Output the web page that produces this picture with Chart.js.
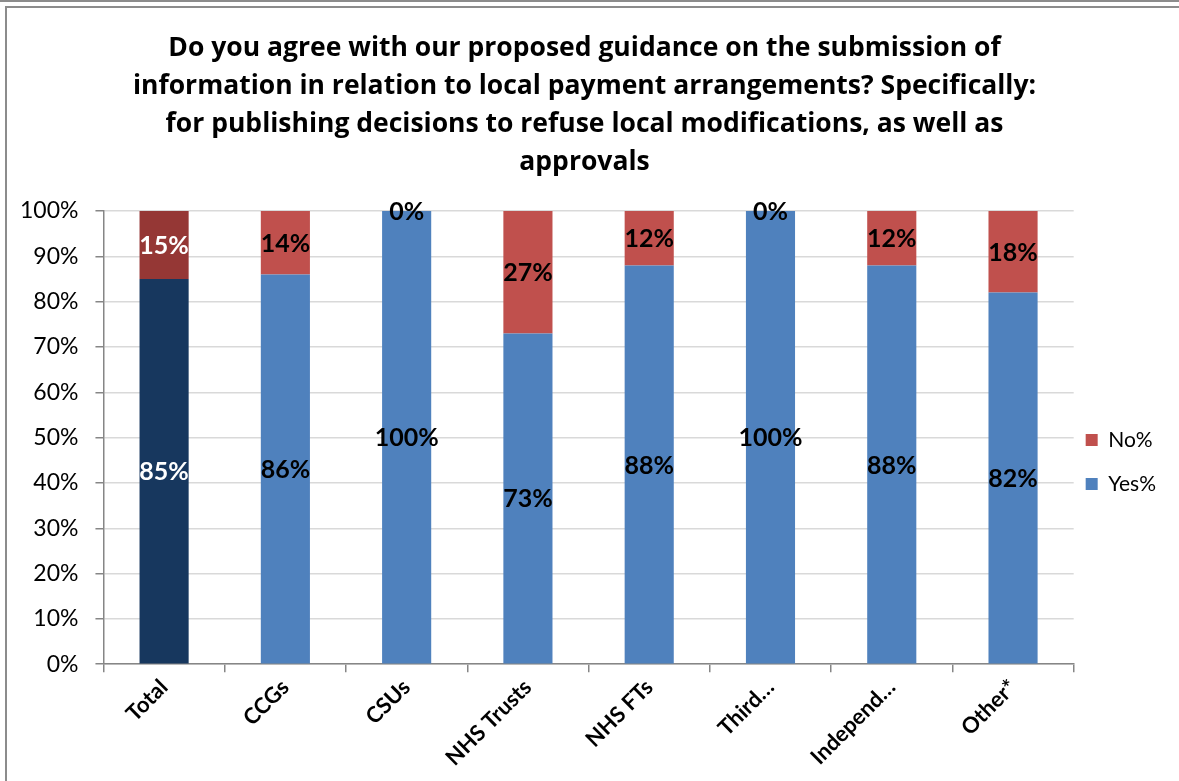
<!DOCTYPE html>
<html>
<head>
<meta charset="utf-8">
<script src="https://cdn.jsdelivr.net/npm/chart.js@4"></script>
<style>
  html, body { margin: 0; padding: 0; background: #fff; }
  #wrap { position: relative; width: 1179px; height: 781px; }
</style>
</head>
<body>
<div id="wrap"><canvas id="chart"></canvas></div>
<script>
// respondent groups and answer shares (%)
const categories = ["Total", "CCGs", "CSUs", "NHS Trusts", "NHS FTs", "Third\u2026", "Independ\u2026", "Other*"];
const yesPct = [85, 86, 100, 73, 88, 100, 88, 82];
const noPct = [15, 14, 0, 27, 12, 0, 12, 18];
const yTicks = [0, 10, 20, 30, 40, 50, 60, 70, 80, 90, 100];

const titleLines = [
  "Do you agree with our proposed guidance on the submission of",
  "information in relation to local payment arrangements? Specifically:",
  "for publishing decisions to refuse local modifications, as well as",
  "approvals"
];

const FONT = "Lato, 'Open Sans', sans-serif";
const GRAY = "#868686";
const YES = "#4F81BD", NO = "#C0504D";

// first column (Total) gets the darker shades
function shade(dark, light) {
  return ctx => (ctx.dataIndex === 0 ? dark : light);
}

// frame around the whole chart
const frame = {
  id: "frame",
  beforeDraw(chart) {
    const c = chart.ctx;
    c.save();
    c.fillStyle = "#fff";
    c.fillRect(0, 0, chart.width, chart.height);
    c.strokeStyle = "#8c8c8c";
    c.lineWidth = 2;
    c.beginPath();
    c.moveTo(0, 1);
    c.lineTo(chart.width, 1);
    c.stroke();
    c.strokeRect(6, 7, chart.width + 20, chart.height + 20);
    c.restore();
  }
};

// percentage labels in the middle of each segment
const segmentLabels = {
  id: "segmentLabels",
  afterDatasetsDraw(chart) {
    const c = chart.ctx;
    c.save();
    c.font = "bold 25px " + FONT;
    c.textAlign = "center";
    c.textBaseline = "middle";
    chart.data.datasets.forEach((ds, di) => {
      const meta = chart.getDatasetMeta(di);
      meta.data.forEach((bar, i) => {
        const v = ds.data[i];
        c.fillStyle = i === 0 ? "#fff" : "#000";
        c.fillText(v + "%", bar.x, (bar.y + bar.base) / 2 + 1);
      });
    });
    c.restore();
  }
};

new Chart(document.getElementById("chart"), {
  type: "bar",
  data: {
    labels: categories,
    datasets: [
      {
        label: "Yes%",
        data: yesPct,
        backgroundColor: shade("#17375E", YES),
        barPercentage: 0.405,
        categoryPercentage: 1
      },
      {
        label: "No%",
        data: noPct,
        backgroundColor: shade("#953735", NO),
        barPercentage: 0.405,
        categoryPercentage: 1
      }
    ]
  },
  options: {
    responsive: true,
    maintainAspectRatio: false,
    animation: false,
    layout: { padding: { left: 3, right: 13, bottom: 8 } },
    scales: {
      x: {
        stacked: true,
        grid: { drawOnChartArea: false, tickLength: 8, color: GRAY, lineWidth: 1.5 },
        border: { color: GRAY, width: 1.5 },
        ticks: {
          color: "#000",
          font: { family: FONT, size: 22, weight: "bold" },
          maxRotation: 45,
          minRotation: 45,
          padding: 2
        }
      },
      y: {
        stacked: true,
        min: 0,
        max: 100,
        afterBuildTicks: axis => { axis.ticks = yTicks.map(v => ({ value: v })); },
        grid: { color: "#D9D9D9", tickColor: GRAY, tickLength: 8, lineWidth: 1.5 },
        border: { color: GRAY, width: 1.5 },
        ticks: {
          color: "#000",
          font: { family: FONT, size: 23 },
          padding: 17,
          callback: v => v + "%"
        }
      }
    },
    plugins: {
      title: {
        display: true,
        text: titleLines,
        color: "#000",
        font: { family: "'Open Sans', sans-serif", size: 26.5, weight: "bold", lineHeight: 38 / 26.5 },
        padding: { top: 29, bottom: 30 }
      },
      legend: {
        position: "right",
        fullSize: false,
        reverse: true,
        title: { display: true, text: "", padding: { top: 0, bottom: 30 }, font: { size: 24, lineHeight: 30 / 24 } },
        labels: {
          color: "#000",
          boxWidth: 12,
          boxHeight: 12,
          padding: 12,
          font: { family: FONT, size: 21, lineHeight: 32 / 21 },
          generateLabels: chart => Chart.defaults.plugins.legend.labels.generateLabels(chart)
            .map(item => Object.assign(item, {
              text: [item.text],
              fillStyle: item.datasetIndex === 0 ? YES : NO,
              lineWidth: 0
            }))
        }
      },
      tooltip: { enabled: false }
    }
  },
  plugins: [frame, segmentLabels]
});
</script>
</body>
</html>
